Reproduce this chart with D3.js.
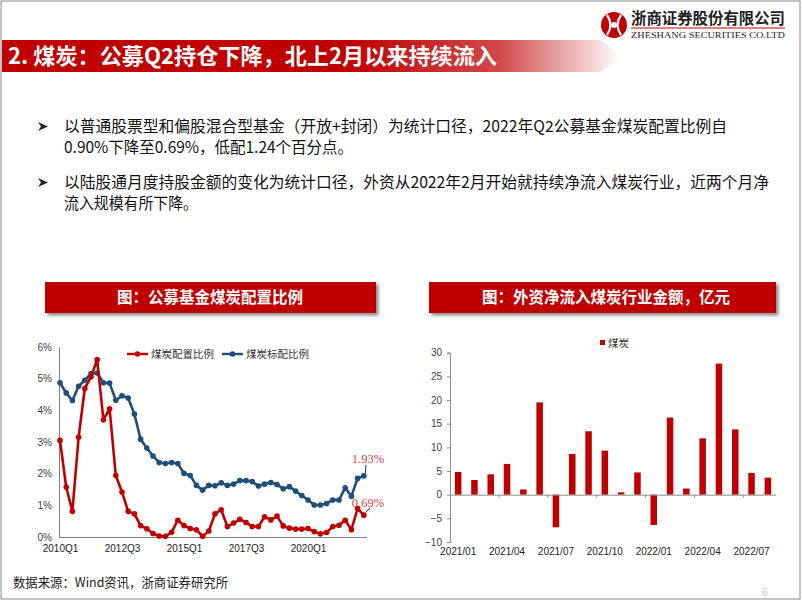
<!DOCTYPE html>
<html><head><meta charset="utf-8">
<script src="https://cdn.jsdelivr.net/npm/d3@7"></script>
<style>
html,body{margin:0;padding:0;background:#fff;}
svg{display:block;font-family:"Liberation Sans","Noto Sans CJK SC",sans-serif;}
</style></head>
<body>
<svg id="chart" width="802" height="602"></svg>
<script>
// ---------- data ----------
const quarters = ["2010Q1","2010Q2","2010Q3","2010Q4","2011Q1","2011Q2","2011Q3","2011Q4",
  "2012Q1","2012Q2","2012Q3","2012Q4","2013Q1","2013Q2","2013Q3","2013Q4",
  "2014Q1","2014Q2","2014Q3","2014Q4","2015Q1","2015Q2","2015Q3","2015Q4",
  "2016Q1","2016Q2","2016Q3","2016Q4","2017Q1","2017Q2","2017Q3","2017Q4",
  "2018Q1","2018Q2","2018Q3","2018Q4","2019Q1","2019Q2","2019Q3","2019Q4",
  "2020Q1","2020Q2","2020Q3","2020Q4","2021Q1","2021Q2","2021Q3","2021Q4",
  "2022Q1","2022Q2"];
const quarterTicks = ["2010Q1","2012Q3","2015Q1","2017Q3","2020Q1"];
const allocation = [3.05,1.58,0.81,3.15,4.69,5.06,5.60,3.70,4.05,1.94,1.42,0.81,0.73,0.36,0.26,0.11,
  0.03,0.02,0.15,0.53,0.36,0.27,0.23,0.02,0.19,0.73,0.86,0.33,0.44,0.56,0.46,0.33,
  0.33,0.64,0.54,0.66,0.35,0.28,0.25,0.25,0.27,0.17,0.10,0.14,0.33,0.37,0.53,0.23,0.90,0.69];
const benchmark = [4.87,4.55,4.31,4.76,4.95,5.16,5.18,4.87,4.86,4.32,4.46,4.39,3.88,3.09,2.81,2.56,
  2.35,2.32,2.35,2.32,2.01,1.94,1.63,1.48,1.63,1.62,1.71,1.63,1.67,1.78,1.78,1.75,
  1.61,1.67,1.72,1.66,1.52,1.59,1.45,1.31,1.17,1.01,1.01,1.06,1.17,1.17,1.55,1.29,1.85,1.93];
const pctTicks = [0,1,2,3,4,5,6];

const months = ["2021/01","2021/02","2021/03","2021/04","2021/05","2021/06","2021/07","2021/08",
  "2021/09","2021/10","2021/11","2021/12","2022/01","2022/02","2022/03","2022/04",
  "2022/05","2022/06","2022/07","2022/08"];
const monthTicks = ["2021/01","2021/04","2021/07","2021/10","2022/01","2022/04","2022/07"];
const inflow = [4.8,3.1,4.3,6.5,1.1,19.5,-6.9,8.6,13.4,9.3,0.5,4.7,-6.4,16.3,1.3,11.9,27.7,13.8,4.6,3.6];
const inflowTicks = [-10,-5,0,5,10,15,20,25,30];

const RED = "#c00000", BLUE = "#1f4e79";
const CJK = "'Noto Sans CJK SC','Liberation Sans',sans-serif";

const svg = d3.select("#chart");
const defs = svg.append("defs");

// page border
svg.append("rect").attr("x",1).attr("y",1).attr("width",799).attr("height",598)
  .attr("fill","none").attr("stroke","#8a8a8a").attr("stroke-width",1);

// ---------- header ----------
const grad = defs.append("linearGradient").attr("id","bannerGrad")
  .attr("x1","0").attr("x2","1").attr("y1","0").attr("y2","0");
grad.append("stop").attr("offset","0").attr("stop-color",RED);
grad.append("stop").attr("offset","0.55").attr("stop-color",RED);
grad.append("stop").attr("offset","0.8").attr("stop-color","#d14848");
grad.append("stop").attr("offset","1").attr("stop-color","#ffffff");
svg.append("path").attr("d","M2,40 L600,40 L622,56 L600,72 L2,72 Z").attr("fill","url(#bannerGrad)");
svg.append("text").attr("x",8).attr("y",64).attr("fill","#fff")
  .attr("font-family",CJK).attr("font-weight","bold").attr("font-size",22)
  .attr("textLength",489).attr("lengthAdjust","spacingAndGlyphs")
  .text("2. 煤炭：公募Q2持仓下降，北上2月以来持续流入");

// logo
const logo = svg.append("g");
logo.append("circle").attr("cx",614).attr("cy",25).attr("r",13).attr("fill",RED);
logo.append("path").attr("d","M607,15 Q614,25 607,35 M621,15 Q614,25 621,35")
  .attr("fill","none").attr("stroke","#fff").attr("stroke-width",2.2);
logo.append("circle").attr("cx",614).attr("cy",25).attr("r",3).attr("fill","#fff");
logo.append("text").attr("x",631).attr("y",24).attr("fill","#222")
  .attr("font-family",CJK).attr("font-weight","bold").attr("font-size",15.5)
  .attr("textLength",154).attr("lengthAdjust","spacingAndGlyphs").text("浙商证券股份有限公司");
logo.append("line").attr("x1",631).attr("x2",785).attr("y1",28).attr("y2",28)
  .attr("stroke",RED).attr("stroke-width",1);
logo.append("text").attr("x",631).attr("y",38).attr("fill","#222")
  .attr("font-family","'Liberation Serif',serif").attr("font-size",9)
  .attr("textLength",154).attr("lengthAdjust","spacingAndGlyphs").text("ZHESHANG SECURITIES CO.LTD");

// ---------- bullets ----------
const bullets = [
  {y:132, bullet:true, len:663, t:"以普通股票型和偏股混合型基金（开放+封闭）为统计口径，2022年Q2公募基金煤炭配置比例自"},
  {y:152.5, bullet:false, len:289, t:"0.90%下降至0.69%，低配1.24个百分点。"},
  {y:188, bullet:true, len:705, t:"以陆股通月度持股金额的变化为统计口径，外资从2022年2月开始就持续净流入煤炭行业，近两个月净"},
  {y:208.5, bullet:false, len:134, t:"流入规模有所下降。"}
];
bullets.forEach(b=>{
  if(b.bullet){
    svg.append("path").attr("d",`M38,${b.y-10} L48,${b.y-5.5} L38,${b.y-1} L41,${b.y-5.5} Z`)
      .attr("fill","#222");
  }
  svg.append("text").attr("x",64).attr("y",b.y).attr("fill","#111")
    .attr("font-family",CJK).attr("font-size",15.5)
    .attr("textLength",b.len).attr("lengthAdjust","spacingAndGlyphs").text(b.t);
});

// ---------- chart title boxes ----------
const f = defs.append("filter").attr("id","shadow").attr("x","-10%").attr("y","-30%").attr("width","130%").attr("height","180%");
f.append("feDropShadow").attr("dx",2.5).attr("dy",2.5).attr("stdDeviation",1.5)
  .attr("flood-color","#000").attr("flood-opacity",0.45);
[{x:45,w:331,cx:210,t:"图：公募基金煤炭配置比例",len:186},
 {x:429,w:347,cx:606,t:"图：外资净流入煤炭行业金额，亿元",len:248}].forEach(b=>{
  svg.append("rect").attr("x",b.x).attr("y",282).attr("width",b.w).attr("height",31)
    .attr("fill",RED).attr("filter","url(#shadow)");
  svg.append("text").attr("x",b.cx).attr("y",303).attr("text-anchor","middle").attr("fill","#fff")
    .attr("font-family",CJK).attr("font-weight","bold").attr("font-size",16)
    .attr("textLength",b.len).attr("lengthAdjust","spacingAndGlyphs").text(b.t);
});

// ---------- left chart ----------
const xL = d3.scalePoint().domain(quarters).range([60, 363.8]);
const yL = d3.scaleLinear().domain([0,6]).range([537,347]);

const axL = svg.append("g").attr("transform","translate(59,0)")
  .call(d3.axisLeft(yL).tickValues(pctTicks).tickSize(0).tickPadding(7).tickFormat(d=>d+"%"));
axL.select(".domain").attr("stroke","#7f7f7f");
axL.selectAll("text").attr("font-size",10).attr("fill","#404040").attr("font-family","'Liberation Sans',sans-serif");

const axLB = svg.append("g").attr("transform","translate(0,537)")
  .call(d3.axisBottom(xL).tickValues(quarterTicks).tickSize(0).tickPadding(8));
axLB.select(".domain").attr("d","M59,0.5H367").attr("stroke","#7f7f7f");
axLB.selectAll("text").attr("font-size",10).attr("fill","#222").attr("font-family","'Liberation Sans',sans-serif");

function drawSeries(vals,color){
  const line = d3.line().x((d,i)=>xL(quarters[i])).y(d=>yL(d));
  svg.append("path").datum(vals).attr("d",line).attr("fill","none")
    .attr("stroke",color).attr("stroke-width",2.6).attr("stroke-linejoin","round");
  svg.append("g").selectAll("circle").data(vals).join("circle")
    .attr("cx",(d,i)=>xL(quarters[i])).attr("cy",d=>yL(d)).attr("r",2.8).attr("fill",color);
}
drawSeries(benchmark,BLUE);
drawSeries(allocation,RED);

// legend
[{x:127,c:RED,t:"煤炭配置比例"},{x:222,c:BLUE,t:"煤炭标配比例"}].forEach(l=>{
  svg.append("line").attr("x1",l.x).attr("x2",l.x+21).attr("y1",354).attr("y2",354)
    .attr("stroke",l.c).attr("stroke-width",2.4);
  svg.append("circle").attr("cx",l.x+10.5).attr("cy",354).attr("r",2.8).attr("fill",l.c);
  svg.append("text").attr("x",l.x+24).attr("y",358).attr("font-size",10.5)
    .attr("font-family",CJK).attr("fill","#333").text(l.t);
});

// annotations
const last = quarters.length-1;
[{v:benchmark[last],ty:463,lx1:366,ly1:465},{v:allocation[last],ty:507,lx1:370,ly1:508}].forEach(a=>{
  svg.append("text").attr("x",368).attr("y",a.ty).attr("text-anchor","middle")
    .attr("font-family","'Liberation Serif',serif").attr("font-size",12.5).attr("fill","#e03c3c")
    .text(a.v.toFixed(2)+"%");
  svg.append("line").attr("x1",a.lx1).attr("y1",a.ly1)
    .attr("x2",xL(quarters[last])+1.5).attr("y2",yL(a.v)-2.5)
    .attr("stroke","#111").attr("stroke-width",0.9);
});

// ---------- right chart ----------
const xR = d3.scaleBand().domain(months).range([450,776]).paddingInner(0.6).paddingOuter(0.3);
const yR = d3.scaleLinear().domain([-10,30]).range([542,352.7]);

const axR = svg.append("g").attr("transform","translate(450,0)")
  .call(d3.axisLeft(yR).tickValues(inflowTicks).tickSize(3).tickPadding(5).tickFormat(d3.format("d")));
axR.select(".domain").attr("stroke","#8c8c8c");
axR.selectAll(".tick line").attr("stroke","#8c8c8c");
axR.selectAll("text").attr("font-size",10).attr("fill","#404040").attr("font-family","'Liberation Sans',sans-serif");

svg.append("g").selectAll("rect").data(inflow).join("rect")
  .attr("x",(d,i)=>xR(months[i])).attr("width",xR.bandwidth())
  .attr("y",d=>yR(Math.max(0,d))).attr("height",d=>Math.abs(yR(d)-yR(0)))
  .attr("fill",RED);

// zero line with ticks every 3 months
const step = xR.step();
svg.append("line").attr("x1",450).attr("x2",776).attr("y1",yR(0)+0.5).attr("y2",yR(0)+0.5)
  .attr("stroke","#8c8c8c");
svg.append("g").selectAll("line").data(d3.range(3,months.length,3)).join("line")
  .attr("x1",k=>450+step*k).attr("x2",k=>450+step*k)
  .attr("y1",yR(0)).attr("y2",yR(0)+3).attr("stroke","#8c8c8c");

// month labels
const axRB = svg.append("g").attr("transform","translate(0,545)")
  .call(d3.axisBottom(xR).tickValues(monthTicks).tickSize(0).tickPadding(3));
axRB.select(".domain").remove();
axRB.selectAll("text").attr("font-size",10).attr("fill","#222").attr("font-family","'Liberation Sans',sans-serif");

// legend
svg.append("rect").attr("x",600).attr("y",340).attr("width",5).attr("height",5).attr("fill",RED);
svg.append("text").attr("x",608).attr("y",347).attr("font-size",10.5).attr("font-family",CJK)
  .attr("fill","#333").text("煤炭");

// ---------- footer ----------
svg.append("text").attr("x",13).attr("y",587).attr("font-family",CJK).attr("font-size",13)
  .attr("fill","#222").attr("textLength",215).attr("lengthAdjust","spacingAndGlyphs")
  .text("数据来源：Wind资讯，浙商证券研究所");
svg.append("text").attr("x",762).attr("y",596).attr("font-family","'Liberation Sans',sans-serif")
  .attr("font-size",11).attr("fill","#d0d0d0").text("6");
</script>
</body></html>
